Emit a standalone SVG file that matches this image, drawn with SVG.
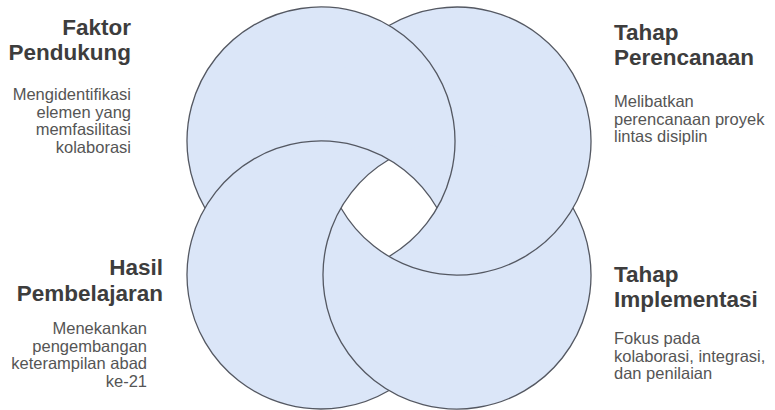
<svg xmlns="http://www.w3.org/2000/svg" width="775" height="410" viewBox="0 0 775 410">
  <style>
    .fill { fill: #dbe6f8; stroke: none; }
    .hole { fill: #ffffff; stroke: none; }
    .ring { fill: none; stroke: #545862; stroke-width: 1.3; }
    .head { font-family: "Liberation Sans", Arial, sans-serif; font-weight: bold; font-size: 22.5px; fill: #3d3d3d; }
    .body { font-family: "Liberation Sans", Arial, sans-serif; font-size: 16.5px; fill: #555555; }
    .r { text-anchor: end; }
  </style>
  <rect width="775" height="410" fill="#ffffff"/>
  <g id="backdrop">
    <circle class="fill" cx="321" cy="141" r="134"/>
    <circle class="fill" cx="457" cy="141" r="134"/>
    <circle class="fill" cx="321" cy="275" r="134"/>
    <circle class="fill" cx="457" cy="275" r="134"/>
    <path class="hole" d="M 389 159.54 A 134 134 0 0 1 437.05 208 A 134 134 0 0 1 389 256.46 A 134 134 0 0 1 340.95 208 A 134 134 0 0 1 389 159.54 Z"/>
  </g>
  <g id="faktor-pendukung">
    <path class="ring" d="M 204.95 208 A 134 134 0 1 1 389 256.46"/>
    <text class="head r" x="131" y="35">Faktor</text>
    <text class="head r" x="131" y="60">Pendukung</text>
    <text class="body r" x="131" y="100">Mengidentifikasi</text>
    <text class="body r" x="131" y="117.5">elemen yang</text>
    <text class="body r" x="131" y="135">memfasilitasi</text>
    <text class="body r" x="131" y="152.5">kolaborasi</text>
  </g>
  <g id="tahap-perencanaan">
    <path class="ring" d="M 389 25.54 A 134 134 0 1 1 340.95 208"/>
    <text class="head" x="614" y="40">Tahap</text>
    <text class="head" x="614" y="65">Perencanaan</text>
    <text class="body" x="614" y="107">Melibatkan</text>
    <text class="body" x="614" y="124.5">perencanaan proyek</text>
    <text class="body" x="614" y="142">lintas disiplin</text>
  </g>
  <g id="tahap-implementasi">
    <path class="ring" d="M 389 159.54 A 134 134 0 1 0 573.05 208"/>
    <text class="head" x="614" y="282">Tahap</text>
    <text class="head" x="614" y="307">Implementasi</text>
    <text class="body" x="614" y="344">Fokus pada</text>
    <text class="body" x="614" y="361.5">kolaborasi, integrasi,</text>
    <text class="body" x="614" y="379">dan penilaian</text>
  </g>
  <g id="hasil-pembelajaran">
    <path class="ring" d="M 389 390.46 A 134 134 0 1 1 437.05 208"/>
    <text class="head r" x="163" y="275">Hasil</text>
    <text class="head r" x="163" y="301">Pembelajaran</text>
    <text class="body r" x="147" y="334">Menekankan</text>
    <text class="body r" x="147" y="351.5">pengembangan</text>
    <text class="body r" x="147" y="369">keterampilan abad</text>
    <text class="body r" x="147" y="386.5">ke-21</text>
  </g>
</svg>
